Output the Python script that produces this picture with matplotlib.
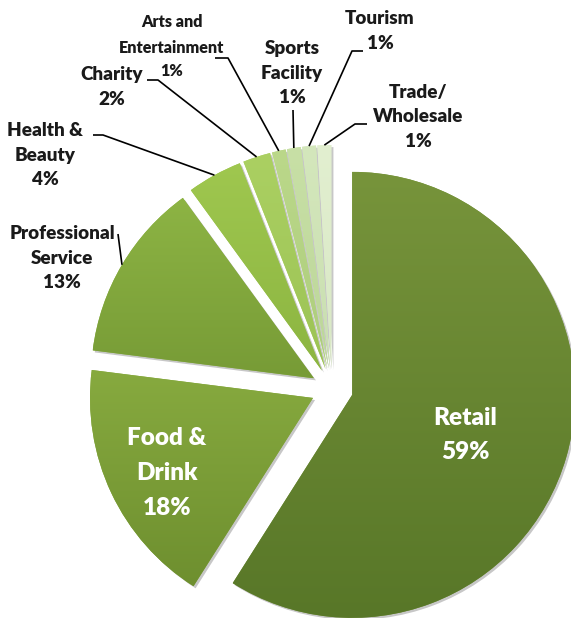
import numpy as np
import matplotlib.pyplot as plt
import matplotlib.patheffects as pe
from matplotlib.colors import to_rgb

plt.rcParams["font.family"] = ["Lato", "DejaVu Sans"]

# Business sectors, clockwise from 12 o'clock
sectors = ["Retail", "Food &\nDrink", "Professional\nService", "Health &\nBeauty",
           "Charity", "Arts and\nEntertainment", "Sports\nFacility", "Tourism",
           "Trade/\nWholesale"]
shares = [59, 18, 13, 4, 2, 1, 1, 1, 1]

# top / bottom shades of each slice gradient
top_colors = ["#77943b", "#87aa3f", "#8db444", "#9fc74f", "#abd062",
              "#bbd88a", "#c8e0a6", "#d4e7bc", "#e2efd0"]
bottom_colors = ["#587728", "#6e8f2f", "#779b36", "#8cb541", "#9cc355",
                 "#adcd7c", "#bcd699", "#c9dfb0", "#d8e8c4"]

# the two big slices are labelled inside, the rest with leader lines;
# "pct" gives a separate spot for the percentage when it sits apart
inside = {0: (465, 183), 1: (167, 145)}
outside = {
    2: dict(text=(62, 360), path=[(118, 384)], size=13.6, ls=1.52),
    3: dict(text=(45, 463), path=[(93, 483), (103, 483)], size=13.6, ls=1.52),
    4: dict(text=(112, 531), path=[(147, 538), (158, 538)], size=13.6, ls=1.52),
    5: dict(text=(172, 583), pct=(172, 547), path=[(215, 560), (228, 560)],
            size=11.6, ls=1.72),
    6: dict(text=(292, 545), path=[(293, 508)], size=13.6, ls=1.52),
    7: dict(text=(380, 587), path=[(363, 567), (352, 567)], size=13.6, ls=1.52),
    8: dict(text=(418, 501), path=[(367, 494), (355, 494)], size=13.6, ls=1.52),
}

W, H = 571, 618
fig = plt.figure(figsize=(W / 100, H / 100), dpi=100)
ax = fig.add_axes([0, 0, 1, 1])

# explode is an offset in data units here (radius is in pixels)
wedges, _ = ax.pie(shares, explode=[21] * len(shares), startangle=90,
                   counterclock=False, center=(332, 229), radius=223,
                   colors=top_colors, wedgeprops=dict(linewidth=0))

# vertical gradient fill clipped to each wedge, plus a soft drop shadow
for w, ct, cb in zip(wedges, top_colors, bottom_colors):
    w.set_path_effects([pe.SimplePatchShadow(offset=(1.5, -1.5), shadow_rgbFace="k",
                                             alpha=0.22), pe.Normal()])
    bb = w.get_path().get_extents()
    t = np.linspace(0, 1, 256)[:, None, None]
    grad = np.array(to_rgb(cb))[None, None, :] * (1 - t) + np.array(to_rgb(ct))[None, None, :] * t
    im = ax.imshow(grad, extent=(bb.x0, bb.x1, bb.y0, bb.y1), origin="lower",
                   aspect="auto", interpolation="bilinear", zorder=w.get_zorder() + 0.1)
    im.set_clip_path(w)

for i, (x, y) in inside.items():
    ax.text(x, y, f"{sectors[i]}\n{shares[i]}%", ha="center", va="center",
            color="white", fontsize=17.5, fontweight="heavy", linespacing=1.7, zorder=5)

for i, spec in outside.items():
    w = wedges[i]
    mid = np.deg2rad((w.theta1 + w.theta2) / 2)
    tip = (w.center[0] + w.r * np.cos(mid), w.center[1] + w.r * np.sin(mid))
    pts = spec["path"] + [tip]
    ax.plot([p[0] for p in pts], [p[1] for p in pts], color="black", lw=1.2,
            solid_capstyle="butt", zorder=5)
    style = dict(ha="center", va="center", color="#1a1a1a", fontsize=spec["size"],
                 fontweight="heavy", linespacing=spec["ls"], zorder=5)
    tx, ty = spec["text"]
    if "pct" in spec:
        ax.text(tx, ty, sectors[i], **style)
        ax.text(*spec["pct"], f"{shares[i]}%", **style)
    else:
        ax.text(tx, ty, f"{sectors[i]}\n{shares[i]}%", **style)

ax.set_xlim(0, W)
ax.set_ylim(0, H)
ax.set_aspect("auto")
ax.axis("off")

fig.savefig("out.png", dpi=100)
